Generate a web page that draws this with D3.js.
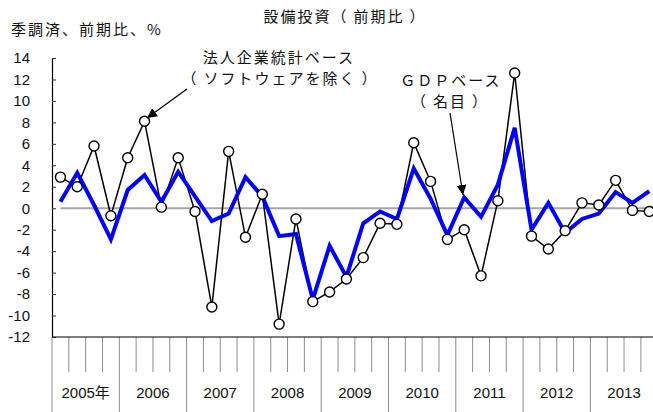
<!DOCTYPE html>
<html>
<head>
<meta charset="utf-8">
<script src="https://cdn.jsdelivr.net/npm/d3@7"></script>
<style>
  body { margin: 0; background: #fff; }
  text { font-family: "Liberation Sans", "Noto Sans CJK JP", sans-serif; fill: #111; }
  .jp { font-family: "Noto Sans CJK JP", sans-serif; font-size: 15px; letter-spacing: 2px; }
</style>
</head>
<body>
<div id="chart-area"></div>
<script>
const W = 653, H = 412
const MARGIN = { LEFT: 52, TOP: 58, BOTTOM: 75 }

// years shown on the x axis, quarterly data 2005Q1 - 2013Q4
const years = [2005, 2006, 2007, 2008, 2009, 2010, 2011, 2012, 2013]
const yearLabels = ["2005年", "2006", "2007", "2008", "2009", "2010", "2011", "2012", "2013"]
const quarters = []
years.forEach(y => [1, 2, 3, 4].forEach(q => quarters.push(y + "Q" + q)))

// 法人企業統計ベース (ソフトウェアを除く)
const corpValues = [2.9, 2.0, 5.8, -0.7, 4.7, 8.1, 0.1, 4.7,
  -0.3, -9.2, 5.3, -2.7, 1.3, -10.8, -1.0, -8.7,
  -7.8, -6.6, -4.6, -1.4, -1.5, 6.1, 2.5, -2.9,
  -2.0, -6.3, 0.7, 12.6, -2.6, -3.8, -2.1, 0.5,
  0.3, 2.6, -0.2, -0.3]

// GDPベース (名目)
const gdpValues = [0.6, 3.3, 0.3, -2.9, 1.7, 3.1, 0.6, 3.4,
  1.1, -1.2, -0.5, 2.9, 1.1, -2.6, -2.4, -8.5,
  -3.5, -6.4, -1.4, -0.3, -1.0, 3.7, 0.9, -2.5,
  1.0, -0.8, 2.2, 7.5, -2.0, 0.5, -2.3, -1.0,
  -0.5, 1.5, 0.5, 1.6]

const yTicks = [14, 12, 10, 8, 6, 4, 2, 0, -2, -4, -6, -8, -10, -12]

// full-width parens get a thin space inside, like the original
const pad = s => s.replace("（", "（\u2009").replace("）", "\u2009）")

const svg = d3.select("#chart-area").append("svg")
  .attr("width", W)
  .attr("height", H)

const x = d3.scaleBand()
  .domain(quarters)
  .range([MARGIN.LEFT, MARGIN.LEFT + 9 * 67.3])

const y = d3.scaleLinear()
  .domain([-12, 14])
  .range([337, MARGIN.TOP])

const cx = q => x(q) + x.bandwidth() / 2

// zero line
svg.append("line")
  .attr("x1", cx(quarters[0])).attr("x2", x.range()[1])
  .attr("y1", y(0)).attr("y2", y(0))
  .attr("stroke", "#a6a6a6")
  .attr("stroke-width", 2)

// y axis
const yAxis = d3.axisLeft(y)
  .tickValues(yTicks)
  .tickSizeInner(-4)
  .tickSizeOuter(0)
  .tickPadding(22)
  .tickFormat(d => d < 0 ? "-" + Math.abs(d) : d)
svg.append("g")
  .attr("transform", `translate(${MARGIN.LEFT},0)`)
  .call(yAxis)
  .call(g => g.select(".domain").attr("stroke", "#000").attr("stroke-width", 1.2))
  .call(g => g.selectAll(".tick line").attr("stroke", "#333"))
  .call(g => g.selectAll("text")
    .attr("font-family", "Liberation Sans")
    .attr("font-size", 15)
    .attr("fill", "#111"))

// x axis: quarter separators, longer at year starts
svg.append("g").selectAll("line")
  .data(quarters)
  .join("line")
    .attr("x1", d => x(d)).attr("x2", d => x(d))
    .attr("y1", 337)
    .attr("y2", d => d.endsWith("Q1") ? 412 : 372)
    .attr("stroke", "#8c8c8c")
    .attr("stroke-width", 1)

svg.append("line")
  .attr("x1", MARGIN.LEFT).attr("x2", x.range()[1])
  .attr("y1", 337).attr("y2", 337)
  .attr("stroke", "#000")
  .attr("stroke-width", 1.2)

svg.append("g").selectAll("text")
  .data(years)
  .join("text")
    .attr("x", (d, i) => x(d + "Q1") + x.bandwidth() * 2)
    .attr("y", 398)
    .attr("text-anchor", "middle")
    .attr("font-size", 15)
    .text((d, i) => yearLabels[i])

// lines
const corpData = quarters.map((q, i) => ({ q, v: corpValues[i] }))
const gdpData = quarters.map((q, i) => ({ q, v: gdpValues[i] }))

const line = d3.line()
  .x(d => cx(d.q))
  .y(d => y(d.v))

svg.append("path")
  .datum(corpData)
  .attr("d", line)
  .attr("fill", "none")
  .attr("stroke", "#000")
  .attr("stroke-width", 1.5)

svg.append("path")
  .datum(gdpData)
  .attr("d", line)
  .attr("fill", "none")
  .attr("stroke", "#0000ff")
  .attr("stroke-width", 4)
  .attr("stroke-linejoin", "miter")

svg.append("g").selectAll("circle")
  .data(corpData)
  .join("circle")
    .attr("cx", d => cx(d.q))
    .attr("cy", d => y(d.v))
    .attr("r", 5)
    .attr("fill", "#fff")
    .attr("stroke", "#000")
    .attr("stroke-width", 1.4)

// titles
svg.append("text")
  .attr("class", "jp")
  .attr("x", 345).attr("y", 22)
  .attr("text-anchor", "middle")
  .text(pad("設備投資（前期比）"))

svg.append("text")
  .attr("class", "jp")
  .attr("x", 11).attr("y", 35)
  .text("季調済、前期比、%")

// annotations
const defs = svg.append("defs")
defs.append("marker")
  .attr("id", "arrow")
  .attr("viewBox", "0 0 10 10")
  .attr("refX", 10).attr("refY", 5)
  .attr("markerWidth", 10).attr("markerHeight", 10)
  .attr("markerUnits", "userSpaceOnUse")
  .attr("orient", "auto")
  .append("path")
    .attr("d", "M0,0 L10,5 L0,10 Z")
    .attr("fill", "#000")

svg.append("text").attr("class", "jp")
  .attr("x", 279).attr("y", 63)
  .attr("text-anchor", "middle")
  .text("法人企業統計ベース")
svg.append("text").attr("class", "jp")
  .attr("x", 280).attr("y", 84)
  .attr("text-anchor", "middle")
  .text(pad("（ソフトウェアを除く）"))

svg.append("line")
  .attr("x1", 187).attr("y1", 89)
  .attr("x2", 147).attr("y2", 118)
  .attr("stroke", "#000").attr("stroke-width", 1.2)
  .attr("marker-end", "url(#arrow)")

svg.append("text").attr("class", "jp")
  .attr("x", 451).attr("y", 86)
  .attr("text-anchor", "middle")
  .text("ＧＤＰベース")
svg.append("text").attr("class", "jp")
  .attr("x", 450).attr("y", 107)
  .attr("text-anchor", "middle")
  .text(pad("（名目）"))

svg.append("line")
  .attr("x1", 450).attr("y1", 113)
  .attr("x2", 463).attr("y2", 195)
  .attr("stroke", "#000").attr("stroke-width", 1.2)
  .attr("marker-end", "url(#arrow)")
</script>
</body>
</html>
